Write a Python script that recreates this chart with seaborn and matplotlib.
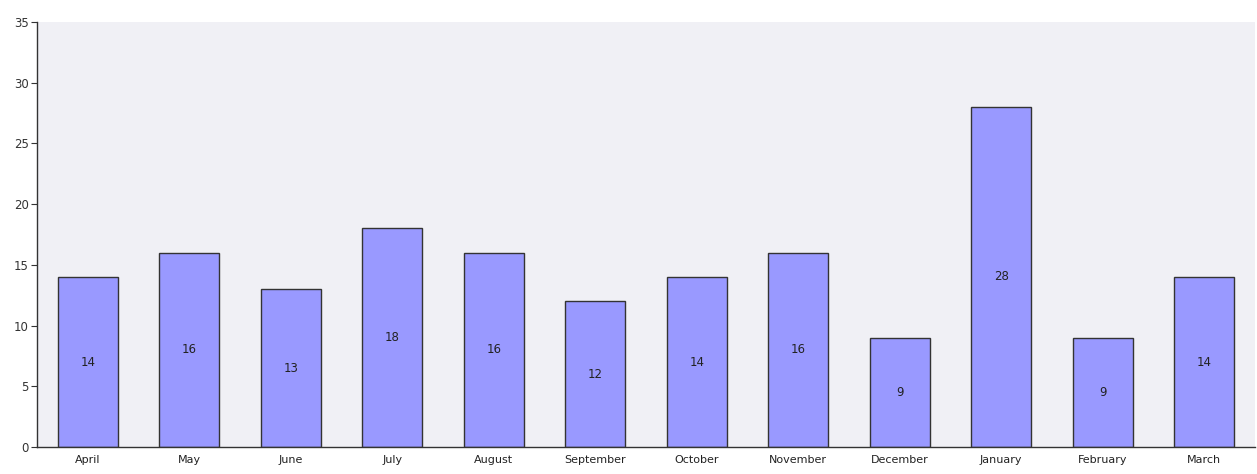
import matplotlib
matplotlib.use("Agg")
import matplotlib.pyplot as plt
import seaborn as sns
import pandas as pd
import numpy as np

months = ["April", "May", "June", "July", "August", "September", "October",
          "November", "December", "January", "February", "March"]
values = [14, 16, 13, 18, 16, 12, 14, 16, 9, 28, 9, 14]
yticks = [0, 5, 10, 15, 20, 25, 30, 35]

sns.set_style("white")
plt.rcParams["font.family"] = ["DejaVu Sans"]

df = pd.DataFrame({"month": months, "value": values})

fig = plt.figure(figsize=(12.57, 4.74), dpi=100)
ax = fig.add_axes([37 / 1257, 27 / 474, 1 - 37 / 1257 - 2 / 1257, (447 - 22) / 474])
ax.set_facecolor("#F0F0F5")

sns.barplot(data=df, x="month", y="value", order=months, color="#9999FF",
            saturation=1, width=0.59, edgecolor="#333333", linewidth=1.0, ax=ax)

for i, v in enumerate(values):
    ax.text(i, v / 2, str(v), ha="center", va="center", fontsize=8.5, color="#222222")

ax.set_ylim(0, 35)
ax.set_xlim(-0.5, len(months) - 0.5)
ax.set_yticks(yticks)
ax.set_yticklabels([str(t) for t in yticks], fontsize=8.5, color="#333333")
ax.set_xticks(range(len(months)))
ax.set_xticklabels(months, fontsize=8, color="#222222")
ax.tick_params(axis="x", length=0, pad=6)
ax.set_xticks(np.arange(-0.5, len(months) - 0.4, 1), minor=True)
ax.tick_params(axis="x", which="minor", length=4, color="#333333", direction="out")
ax.tick_params(axis="y", length=4, color="#333333", direction="out", pad=2, left=True)
ax.set_xlabel("")
ax.set_ylabel("")
for s in ["top", "right"]:
    ax.spines[s].set_visible(False)
for s in ["left", "bottom"]:
    ax.spines[s].set_color("#333333")
    ax.spines[s].set_linewidth(1.0)

fig.savefig("out.png", dpi=100, facecolor="white")
